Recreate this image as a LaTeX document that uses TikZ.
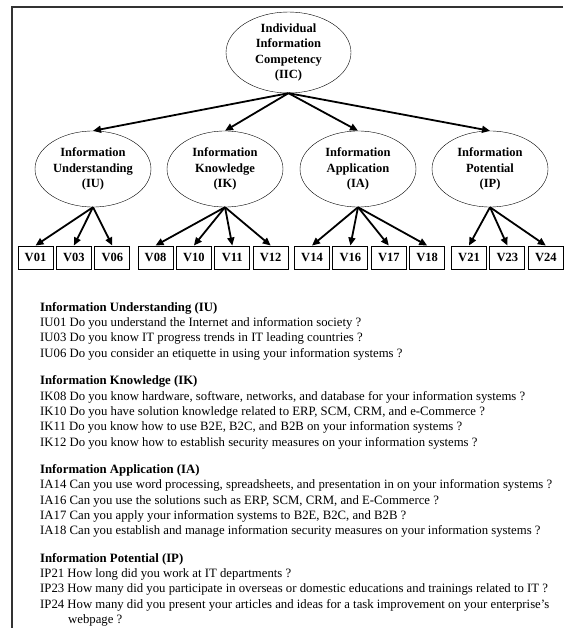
\documentclass[tikz,border=0pt]{standalone}
\usepackage{fontspec}
\setmainfont{Liberation Serif}
\usetikzlibrary{arrows.meta, positioning, shapes.geometric}
\tikzset{
    construct/.style = {
      draw, ellipse, thin, inner sep=0pt, align=center,
      minimum width=116pt, minimum height=76pt,
      font=\bfseries\fontsize{12.5}{15.3}\selectfont,
    },
    item/.style = {
      draw, line width=0.9pt, inner sep=0pt,
      minimum width=35pt, minimum height=23pt,
      font=\bfseries\fontsize{12.5}{14}\selectfont,
    },
    link/.style = {line width=1.8pt, arrows={-Triangle[length=8pt, width=7pt]}},
    frame line/.style = {line width=1.6pt, black!80!white},
    questions/.style = {
      inner sep=0pt, align=left, anchor=north west,
      font=\fontsize{12.75}{15.3}\selectfont,
    },
    next group/.style = {below=15.4pt of #1.south west, anchor=north west},
}

\begin{document}
\begin{tikzpicture}[x=1pt, y=1pt]
      \useasboundingbox (0,0) rectangle (565,-628);

      % Frame (only top and left edges are shown)
      \draw [frame line] (563,-7) -- (12,-7) -- (12,-628);

      % Constructs
      \node (iic) [construct, minimum width=125pt, minimum height=80pt]
        at (288.5,-52.5) {Individual\\Information\\Competency\\(IIC)};
      \node (iu) [construct] at (93,-169) {Information\\Understanding\\(IU)};
      \node (ik) [construct] at (225,-169) {Information\\Knowledge\\(IK)};
      \node (ia) [construct] at (358,-169) {Information\\Application\\(IA)};
      \node (ip) [construct] at (490,-169) {Information\\Potential\\(IP)};

      % Observed items
      \begin{scope}[node distance=2.5pt]
        \node (v01) [item] at (35.5,-257.5) {V01};
        \node (v03) [item, right=of v01] {V03};
        \node (v06) [item, right=of v03] {V06};
        \node (v08) [item] at (155.5,-257.5) {V08};
        \node (v10) [item, right=of v08] {V10};
        \node (v11) [item, right=of v10] {V11};
        \node (v12) [item, right=of v11] {V12};
        \node (v14) [item] at (312,-257.5) {V14};
        \node (v16) [item, right=of v14] {V16};
        \node (v17) [item, right=of v16] {V17};
        \node (v18) [item, right=of v17] {V18};
        \node (v21) [item] at (469,-257.5) {V21};
        \node (v23) [item, right=of v21] {V23};
        \node (v24) [item, right=of v23] {V24};
      \end{scope}

      % Links
      \foreach \c in {iu, ik, ia, ip}
        \draw [link] (iic.south) -- (\c.north);
      \foreach \v in {v01, v03, v06}
        \draw [link] (iu.south) -- (\v.north);
      \foreach \v in {v08, v10, v11, v12}
        \draw [link] (ik.south) -- (\v.north);
      \foreach \v in {v14, v16, v17, v18}
        \draw [link] (ia.south) -- (\v.north);
      \foreach \v in {v21, v23, v24}
        \draw [link] (ip.south) -- (\v.north);

      % Questionnaire items
      \node (iutext) [questions] at (40,-302.2) {%
        \textbf{Information Understanding (IU)}\\
        IU01 Do you understand the Internet and information society ?\\
        IU03 Do you know IT progress trends in IT leading countries ?\\
        IU06 Do you consider an etiquette in using your information systems ?};
      \node (iktext) [questions, next group=iutext] {%
        \textbf{Information Knowledge (IK)}\\
        IK08 Do you know hardware, software, networks, and database for your information systems ?\\
        IK10 Do you have solution knowledge related to ERP, SCM, CRM, and e-Commerce ?\\
        IK11 Do you know how to use B2E, B2C, and B2B on your information systems ?\\
        IK12 Do you know how to establish security measures on your information systems ?};
      \node (iatext) [questions, next group=iktext] {%
        \textbf{Information Application (IA)}\\
        IA14 Can you use word processing, spreadsheets, and presentation in on your information systems ?\\
        IA16 Can you use the solutions such as ERP, SCM, CRM, and E-Commerce ?\\
        IA17 Can you apply your information systems to B2E, B2C, and B2B ?\\
        IA18 Can you establish and manage information security measures on your information systems ?};
      \node (iptext) [questions, next group=iatext] {%
        \textbf{Information Potential (IP)}\\
        IP21 How long did you work at IT departments ?\\
        IP23 How many did you participate in overseas or domestic educations and trainings related to IT ?\\
        IP24 How many did you present your articles and ideas for a task improvement on your enterprise’s\\
        \hspace*{28pt}webpage ?};
\end{tikzpicture}
\end{document}
